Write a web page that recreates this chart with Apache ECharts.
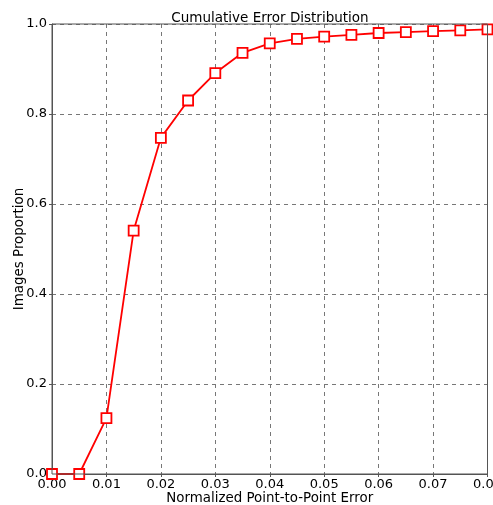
<!DOCTYPE html>
<html><head><meta charset="utf-8">
<script src="https://cdn.jsdelivr.net/npm/echarts@6/dist/echarts.min.js"></script>
<style>html,body{margin:0;padding:0;background:#fff}#c{width:493px;height:505px}</style>
</head><body><div id="c"></div>
<script>
const xValues = [0, 0.005, 0.01, 0.015, 0.02, 0.025, 0.03, 0.035, 0.04, 0.045, 0.05, 0.055, 0.06, 0.065, 0.07, 0.075, 0.08];
const proportions = [0, 0, 0.124, 0.541, 0.747, 0.830, 0.891, 0.936, 0.957, 0.967, 0.972, 0.976, 0.980, 0.982, 0.984, 0.986, 0.988];
const xTickLabels = ['0.00','0.01','0.02','0.03','0.04','0.05','0.06','0.07','0.08'];
const yTickLabels = ['0.0','0.2','0.4','0.6','0.8','1.0'];

const chart = echarts.init(document.getElementById('c'));
const font = 'DejaVu Sans';
const axisCol = '#555';
chart.setOption({
  animation: false,
  title: {text: 'Cumulative Error Distribution', left: 270, top: 11, padding: 0, textAlign: 'center',
    textStyle: {fontFamily: font, fontSize: 13.5, fontWeight: 'normal', color: '#000'}},
  grid: {left: 52, right: 5.5, top: 24, bottom: 31, containLabel: false, outerBoundsMode: 'none'},
  xAxis: {
    type: 'value', min: 0, max: 0.08, interval: 0.01,
    name: 'Normalized Point-to-Point Error', nameLocation: 'middle', nameGap: 18, nameMoveOverlap: false,
    nameTextStyle: {fontFamily: font, fontSize: 13.4, color: '#000'},
    axisLine: {show: true, onZero: false, lineStyle: {color: axisCol, width: 1}},
    axisTick: {show: true, length: 3, lineStyle: {color: axisCol}},
    axisLabel: {fontFamily: font, fontSize: 13, color: '#000', margin: 4, hideOverlap: false,
      showMinLabel: true, showMaxLabel: true,
      formatter: (v) => xTickLabels[Math.round(v / 0.01)]},
    splitLine: {show: true, lineStyle: {color: '#777', type: [4, 4], width: 1}}
  },
  yAxis: {
    type: 'value', min: 0, max: 1, interval: 0.2,
    name: 'Images Proportion', nameLocation: 'middle', nameGap: 26, nameMoveOverlap: false,
    nameTextStyle: {fontFamily: font, fontSize: 13.4, color: '#000'},
    axisLine: {show: true, lineStyle: {color: axisCol, width: 1}},
    axisTick: {show: true, length: 3, lineStyle: {color: axisCol}},
    axisLabel: {fontFamily: font, fontSize: 13, color: '#000', margin: 5,
      showMinLabel: true, showMaxLabel: true,
      formatter: (v) => yTickLabels[Math.round(v / 0.2)]},
    splitLine: {show: true, lineStyle: {color: '#777', type: [4, 4], width: 1}}
  },
  series: [{
    type: 'line',
    data: xValues.map((x, i) => [x, proportions[i]]),
    symbol: 'rect', symbolSize: 10, showAllSymbol: true,
    lineStyle: {color: '#ff0000', width: 1.8},
    itemStyle: {color: '#fff', borderColor: '#ff0000', borderWidth: 1.8},
    clip: false, z: 5
  }],
  graphic: [{
    type: 'rect', z: 100, silent: true,
    shape: {x: 52, y: 24, width: 435.5, height: 450},
    style: {fill: 'none', stroke: axisCol, lineWidth: 1}
  }]
});
</script></body></html>
